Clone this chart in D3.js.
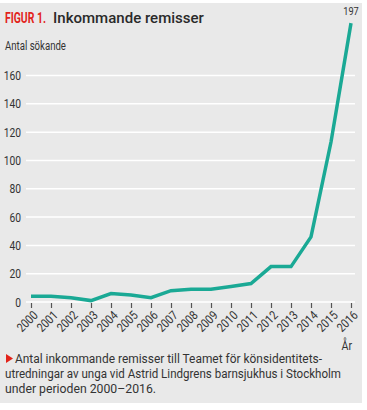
<!DOCTYPE html>
<html><head><meta charset="utf-8">
<script src="https://cdn.jsdelivr.net/npm/d3@7"></script>
<style>
body{margin:0;background:#fff;}
svg{display:block;}
text{font-family:Roboto, sans-serif;}
</style></head>
<body>
<svg id="c" width="367" height="410"></svg>
<script>
const years = [2000,2001,2002,2003,2004,2005,2006,2007,2008,2009,2010,2011,2012,2013,2014,2015,2016];
const values = [4,4,3,1,6,5,3,8,9,9,11,13,25,25,46,113,197];
const yTicks = [0,20,40,60,80,100,120,140,160];
const title = "Inkommande remisser";
const figLabel = "FIGUR 1.";
const yLabel = "Antal sökande";
const xLabel = "År";
const captionLines = ["Antal inkommande remisser till Teamet för könsidentitets-",
  "utredningar av unga vid Astrid Lindgrens barnsjukhus i Stockholm",
  "under perioden 2000–2016."];

function condense(sel, f){
  sel.each(function(){
    const w = this.getComputedTextLength();
    d3.select(this).attr("textLength", w*f).attr("lengthAdjust","spacingAndGlyphs");
  });
}
function fit(sel, w){
  sel.attr("textLength", w).attr("lengthAdjust","spacingAndGlyphs");
}
function scaledText(parent, tx, ty, w, str){
  const t = parent.append("text").attr("x",0).attr("y",0).text(str);
  return {t, place(){
    const nw = t.node().getComputedTextLength();
    t.attr("transform",`translate(${tx},${ty}) scale(${w/nw},1)`);
    return t;
  }};
}

const svg = d3.select("#c");
svg.append("rect").attr("x",0).attr("y",3).attr("width",362).attr("height",400).attr("fill","#e9e9e9");

const x = d3.scalePoint().domain(years).range([31,351]);
const y = d3.scaleLinear().domain([0,160]).range([302,75.5]);

// title
const s1 = scaledText(svg, 5, 23, 41, figLabel);
s1.t.attr("fill","#e2231a").attr("font-weight","bold").attr("font-size",15.5);
s1.place();
const s2 = scaledText(svg, 53, 23, 151, title);
s2.t.attr("fill","#2a2a2a").attr("font-weight","500").attr("font-size",15.5);
s2.place();

const yl = svg.append("text").attr("x",5).attr("y",50).attr("font-size",12).attr("fill","#333").text(yLabel);
condense(yl,0.8);

// gridlines
svg.append("g").selectAll("line").data(yTicks).join("line")
  .attr("x1",26).attr("x2",355).attr("y1",d=>y(d)).attr("y2",d=>y(d))
  .attr("stroke","#fff").attr("stroke-width",1.5);

// y axis labels
const yAxis = d3.axisLeft(y).tickValues(yTicks).tickSize(0).tickPadding(0);
const gy = svg.append("g").attr("transform","translate(21,0)").call(yAxis);
gy.select(".domain").remove();
gy.selectAll("text").attr("font-family","Roboto, sans-serif").attr("font-size",12.5).attr("fill","#333");
condense(gy.selectAll("text"),0.82);

// x axis
const xAxis = d3.axisBottom(x).tickSize(5).tickPadding(3);
const gx = svg.append("g").attr("transform","translate(0,303)").call(xAxis);
gx.select(".domain").remove();
gx.selectAll(".tick line").attr("stroke","#555").attr("stroke-width",1.2);
gx.selectAll("text").attr("font-family","Roboto, sans-serif").attr("font-size",12.5).attr("fill","#333")
  .attr("text-anchor","end").attr("dy","0.35em")
  .attr("transform","translate(4,10) rotate(-45)").attr("x",0).attr("y",0);
condense(gx.selectAll("text"),0.84);

const xl = svg.append("text").attr("x",352).attr("y",350).attr("text-anchor","end")
  .attr("font-size",12.5).attr("fill","#333").text(xLabel);
condense(xl,0.85);

// line
const line = d3.line().x((d,i)=>x(years[i])).y(d=>y(d));
svg.append("path").datum(values).attr("d",line).attr("fill","none")
  .attr("stroke","#1aa995").attr("stroke-width",3.5).attr("stroke-linejoin","miter");

const vl = svg.append("text").attr("x",x(2016)).attr("y",15).attr("text-anchor","middle")
  .attr("font-size",11.5).attr("fill","#333").text(values[values.length-1]);
condense(vl,0.8);

// caption
svg.append("path").attr("d","M6,354 L13,358.5 L6,363 Z").attr("fill","#e2231a");
const cap = svg.append("g").attr("font-size",12).attr("fill","#333");
const capX = [15,5,5], capW = [307,336,151];
captionLines.forEach((l,i)=>{
  const tx = cap.append("text").attr("x", capX[i]).attr("y",363+i*15).text(l);
  fit(tx, capW[i]);
});
</script>
</body></html>
